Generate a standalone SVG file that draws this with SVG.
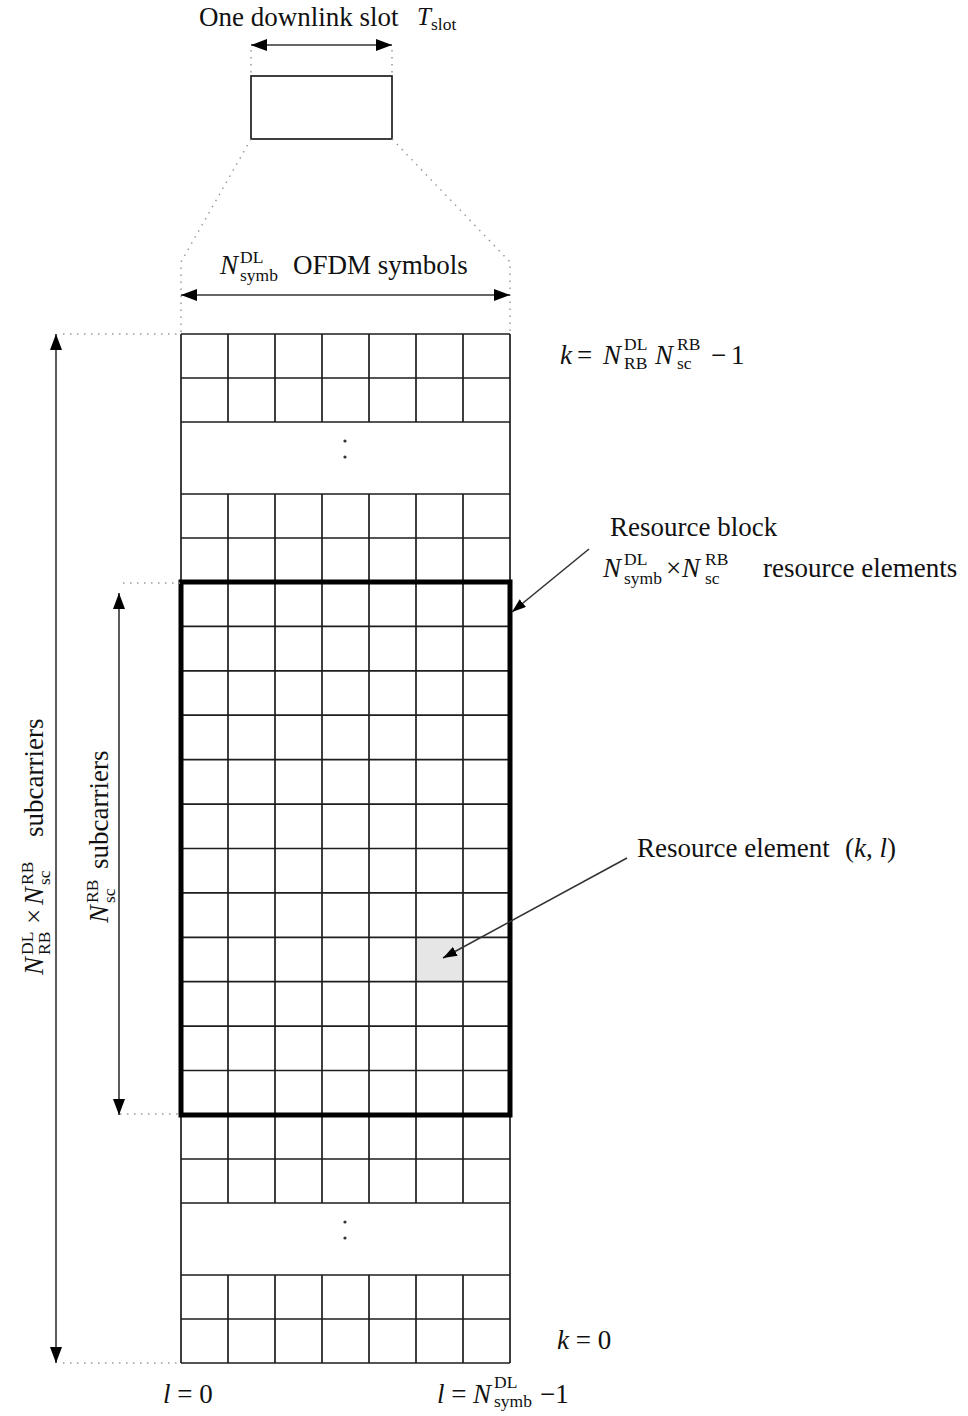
<svg xmlns="http://www.w3.org/2000/svg" width="968" height="1416" viewBox="0 0 968 1416">
<style>
.t{font-family:"Liberation Serif","Times New Roman",serif;font-size:27px;fill:#111}
.mi{font-family:"Liberation Serif","Times New Roman",serif;font-size:27px;font-style:italic;fill:#111}
.s{font-family:"Liberation Serif","Times New Roman",serif;font-size:17.5px;fill:#111}
.grid{fill:none;stroke:#1e1e1e;stroke-width:1.7}
.dot{fill:none;stroke:#999;stroke-width:1.5;stroke-dasharray:1.5 5.5}
.arr{fill:none;stroke:#333;stroke-width:1.6}
</style>
<defs>
<marker id="ah" markerUnits="userSpaceOnUse" markerWidth="16" markerHeight="12" refX="16" refY="6" orient="auto-start-reverse" viewBox="0 0 16 12">
<path d="M0,0 L16,6 L0,12 z" fill="#000"/>
</marker>
<marker id="ahs" markerUnits="userSpaceOnUse" markerWidth="14" markerHeight="10" refX="14" refY="5" orient="auto" viewBox="0 0 14 10">
<path d="M0,0 L14,5 L0,10 z" fill="#000"/>
</marker>
</defs>
<rect width="968" height="1416" fill="#fff"/>

<g id="slot-box">
<rect x="251" y="76" width="141" height="63" fill="#fff" stroke="#1e1e1e" stroke-width="1.7"/>
<text class="t" x="199" y="26">One downlink slot</text>
<text class="mi" x="417" y="25" style="font-size:25px">T</text>
<text class="s" x="431" y="30">slot</text>
</g>

<g id="symbols-label">
<text class="mi" x="220" y="274">N</text>
<text class="s" x="240" y="263">DL</text>
<text class="s" x="240" y="281">symb</text>
<text class="t" x="293" y="274">OFDM symbols</text>
</g>

<g id="grid">
<rect x="416" y="937.3" width="47" height="44.4" fill="#e6e6e6"/>
<path class="grid" d="M228 334V422M228 494V1203M228 1275V1363M275 334V422M275 494V1203M275 1275V1363M322 334V422M322 494V1203M322 1275V1363M369 334V422M369 494V1203M369 1275V1363M416 334V422M416 494V1203M416 1275V1363M463 334V422M463 494V1203M463 1275V1363M181 334V1363M510 334V1363"/>
<path class="grid" d="M181 334H510M181 378H510M181 422H510M181 494H510M181 538H510M181 626.4H510M181 670.8H510M181 715.2H510M181 759.7H510M181 804.1H510M181 848.5H510M181 892.9H510M181 937.3H510M181 981.7H510M181 1026.1H510M181 1070.5H510M181 1159H510M181 1203H510M181 1275H510M181 1319H510M181 1363H510"/>
<circle cx="345" cy="441" r="1.6" fill="#333"/>
<circle cx="345" cy="457" r="1.6" fill="#333"/>
<circle cx="345" cy="1222" r="1.6" fill="#333"/>
<circle cx="345" cy="1238" r="1.6" fill="#333"/>
</g>

<g id="resource-block">
<rect x="181" y="582" width="329" height="533" fill="none" stroke="#000" stroke-width="5"/>
<text class="t" x="610" y="536">Resource block</text>
<text class="mi" x="603" y="577">N</text>
<text class="s" x="624" y="565">DL</text>
<text class="s" x="624" y="584">symb</text>
<text class="t" x="666" y="577">×</text>
<text class="mi" x="682" y="577">N</text>
<text class="s" x="705" y="565">RB</text>
<text class="s" x="705" y="584">sc</text>
<text class="t" x="763" y="577">resource elements</text>
</g>

<g id="resource-element">
<text class="t" x="637" y="857">Resource element</text>
<text class="t" x="845" y="857">(<tspan font-style="italic">k</tspan>, <tspan font-style="italic">l</tspan>)</text>
</g>

<g id="k-top">
<text class="mi" x="560" y="364">k</text>
<text class="t" x="577" y="364">=</text>
<text class="mi" x="603" y="364">N</text>
<text class="s" x="624" y="350">DL</text>
<text class="s" x="624" y="369">RB</text>
<text class="mi" x="655" y="364">N</text>
<text class="s" x="677" y="350">RB</text>
<text class="s" x="677" y="369">sc</text>
<text class="t" x="711" y="364">−</text>
<text class="t" x="731" y="364">1</text>
</g>

<g id="k-bottom">
<text class="t" x="557" y="1349"><tspan font-style="italic">k</tspan> = 0</text>
</g>

<g id="l-labels">
<text class="t" x="163" y="1403"><tspan font-style="italic">l</tspan> = 0</text>
<text class="t" x="437" y="1403"><tspan font-style="italic">l</tspan> =</text>
<text class="mi" x="473" y="1403">N</text>
<text class="s" x="494" y="1388">DL</text>
<text class="s" x="494" y="1407">symb</text>
<text class="t" x="540" y="1403">−1</text>
</g>

<g id="outer-label" transform="translate(43,975) rotate(-90)">
<text class="mi" x="0" y="0">N</text>
<text class="s" x="20" y="-10">DL</text>
<text class="s" x="20" y="7">RB</text>
<text class="t" x="51" y="0">×</text>
<text class="mi" x="70" y="0">N</text>
<text class="s" x="90" y="-10">RB</text>
<text class="s" x="90" y="7">sc</text>
<text class="t" x="138" y="0">subcarriers</text>
</g>

<g id="inner-label" transform="translate(108,925) rotate(-90)">
<text class="mi" x="2" y="0">N</text>
<text class="s" x="22" y="-10">RB</text>
<text class="s" x="22" y="7">sc</text>
<text class="t" x="56" y="0">subcarriers</text>
</g>

<g id="connectors">
<path class="dot" d="M251 50V75M392 50V75"/>
<path class="dot" d="M251 139L181 262V334M392 139L510 262V334"/>
<path class="dot" d="M63 334H181M63 1363H181M123 583H180M120 1114H180"/>
<line class="arr" x1="251" y1="45" x2="392" y2="45" marker-start="url(#ah)" marker-end="url(#ah)"/>
<line class="arr" x1="181" y1="295" x2="510" y2="295" marker-start="url(#ah)" marker-end="url(#ah)"/>
<line class="arr" x1="56" y1="334" x2="56" y2="1363" marker-start="url(#ah)" marker-end="url(#ah)"/>
<line class="arr" x1="119" y1="593" x2="119" y2="1115" marker-start="url(#ah)" marker-end="url(#ah)"/>
<line class="arr" x1="589" y1="549" x2="512" y2="612" marker-end="url(#ahs)"/>
<line class="arr" x1="627" y1="858" x2="443" y2="958" marker-end="url(#ahs)"/>
</g>
</svg>
